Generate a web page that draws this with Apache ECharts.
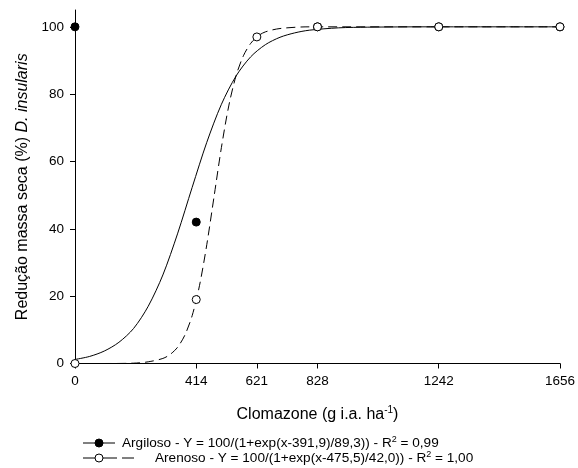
<!DOCTYPE html>
<html>
<head>
<meta charset="utf-8">
<script src="https://cdn.jsdelivr.net/npm/echarts@6/dist/echarts.min.js"></script>
<style>html,body{margin:0;padding:0;background:#fff;}#c{width:578px;height:468px;}</style>
</head>
<body>
<div id="c"></div>
<script>
// Observed points
const argilosoX = [0, 414, 828, 1242, 1656];
const argilosoY = [100, 42, 100, 100, 100];
const arenosoX = [0, 414, 621, 828, 1242, 1656];
const arenosoY = [0, 19, 97, 100, 100, 100];

// Fitted curves
const argCurveX = [0, 50, 100, 150, 200, 250, 300, 350, 400, 450, 500, 550, 600, 650, 700, 750, 800, 900, 1000, 1200, 1656];
const argCurveY = [1.2, 2.1, 3.7, 6.3, 10.4, 17.0, 26.3, 38.5, 52.3, 65.7, 77.0, 85.4, 91.1, 94.7, 96.9, 98.2, 99.0, 99.7, 99.9, 100, 100];
const areCurveX = [0, 100, 200, 250, 300, 325, 350, 375, 400, 425, 450, 475, 500, 525, 550, 575, 600, 625, 650, 700, 800, 1656];
const areCurveY = [0, 0, 0.1, 0.5, 1.5, 2.7, 4.8, 8.4, 14.2, 23.1, 35.3, 49.7, 64.2, 76.5, 85.5, 91.4, 95.1, 97.3, 98.5, 99.5, 100, 100];

const xTicks = [0, 414, 621, 828, 1242, 1656];
const yTicks = [0, 20, 40, 60, 80, 100];

const legendArg = 'Argiloso - Y = 100/(1+exp(x-391,9)/89,3)) - R{sup|2} = 0,99';
const legendAre = 'Arenoso - Y = 100/(1+exp(x-475,5)/42,0)) - R{sup|2} = 1,00';

const zip = (xs, ys) => xs.map((x, i) => [x, ys[i]]);
const FONT = '"Liberation Sans", Arial, sans-serif';

const chart = echarts.init(document.getElementById('c'), null, {renderer: 'canvas'});
chart.setOption({
  animation: false,
  backgroundColor: '#fff',
  grid: {left: 75, right: 15, top: 10, bottom: 104.5, containLabel: false},
  xAxis: {
    type: 'value', min: 0, max: 1656,
    name: 'Clomazone (g i.a. ha{sup|-1})',
    nameLocation: 'middle', nameGap: 42,
    nameTextStyle: {color: '#000', fontSize: 16, fontFamily: FONT,
      rich: {sup: {fontSize: 10, verticalAlign: 'top', color: '#000', fontFamily: FONT, padding: [0, 0, 8, 0]}}},
    axisLine: {show: true, onZero: false, lineStyle: {color: '#000', width: 1}},
    axisTick: {show: true, customValues: xTicks, length: 5, inside: false, lineStyle: {color: '#000'}},
    axisLabel: {show: true, customValues: xTicks, color: '#000', fontSize: 13.5, fontFamily: FONT, margin: 11,
      formatter: v => String(v)},
    splitLine: {show: false}
  },
  yAxis: {
    type: 'value', min: 0, max: 105, interval: 20,
    name: 'Redução massa seca (%) {i|D. insularis}',
    nameLocation: 'middle', nameGap: 44, nameRotate: 90,
    nameTextStyle: {color: '#000', fontSize: 16, fontFamily: FONT,
      rich: {i: {fontStyle: 'italic', fontSize: 16, color: '#000', fontFamily: FONT}}},
    axisLine: {show: true, onZero: false, lineStyle: {color: '#000', width: 1}},
    axisTick: {show: true, customValues: yTicks, length: 5, lineStyle: {color: '#000'}},
    axisLabel: {show: true, customValues: yTicks, color: '#000', fontSize: 13.5, fontFamily: FONT, margin: 11,
      formatter: v => String(v)},
    splitLine: {show: false}
  },
  series: [
    {type: 'line', data: zip(argCurveX, argCurveY), smooth: 0.3, showSymbol: false,
     lineStyle: {color: '#000', width: 1}, silent: true},
    {type: 'line', data: zip(areCurveX, areCurveY), smooth: 0.3, showSymbol: false,
     lineStyle: {color: '#000', width: 1, type: [9, 5]}, silent: true},
    {type: 'scatter', data: zip(argilosoX, argilosoY), symbol: 'circle', symbolSize: 8, clip: false,
     itemStyle: {color: '#000', borderColor: '#000', borderWidth: 1, opacity: 1}, z: 3},
    {type: 'scatter', data: zip(arenosoX, arenosoY), symbol: 'circle', symbolSize: 8, clip: false,
     itemStyle: {color: '#fff', borderColor: '#000', borderWidth: 1, opacity: 1}, z: 4}
  ],
  graphic: [
    {type: 'line', shape: {x1: 83, y1: 443, x2: 115, y2: 443}, style: {stroke: '#000', lineWidth: 1}},
    {type: 'circle', shape: {cx: 99, cy: 443, r: 4}, style: {fill: '#000', stroke: '#000', lineWidth: 1}},
    {type: 'text', x: 122, y: 443, style: {text: legendArg, fill: '#000', fontSize: 13.6, fontFamily: FONT, verticalAlign: 'middle',
      rich: {sup: {fontSize: 9, verticalAlign: 'top', fill: '#000', fontFamily: FONT, padding: [0, 0, 7, 0]}}}},
    {type: 'line', shape: {x1: 83, y1: 458, x2: 117, y2: 458}, style: {stroke: '#000', lineWidth: 1}},
    {type: 'line', shape: {x1: 122, y1: 458, x2: 134, y2: 458}, style: {stroke: '#000', lineWidth: 1}},
    {type: 'circle', shape: {cx: 99, cy: 458, r: 4}, style: {fill: '#fff', stroke: '#000', lineWidth: 1}, z: 10},
    {type: 'text', x: 155, y: 458, style: {text: legendAre, fill: '#000', fontSize: 13.6, fontFamily: FONT, verticalAlign: 'middle',
      rich: {sup: {fontSize: 9, verticalAlign: 'top', fill: '#000', fontFamily: FONT, padding: [0, 0, 7, 0]}}}}
  ]
});
</script>
</body>
</html>
